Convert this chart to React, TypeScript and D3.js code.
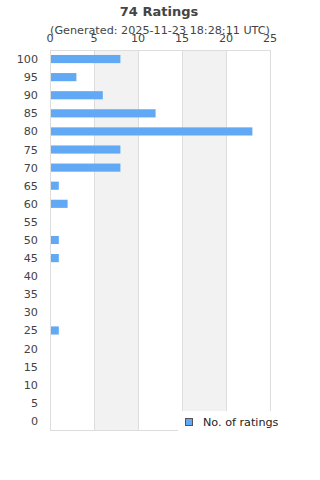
import React from "react";
import * as d3 from "d3";

const categories = ["100","95","90","85","80","75","70","65","60","55","50","45","40","35","30","25","20","15","10","5","0"];
const counts = [8,3,6,12,23,8,8,1,2,0,1,1,0,0,0,1,0,0,0,0,0];
const xTicks = [0,5,10,15,20,25];
const title = "74 Ratings";
const subtitle = "(Generated: 2025-11-23 18:28:11 UTC)";
const seriesName = "No. of ratings";

export default function App() {
  const W = 320, H = 480;
  const left = 50, right = 270, top = 50, bottom = 430;
  const x = d3.scaleLinear().domain([0, 25]).range([left, right]);
  const y = d3.scaleBand<string>().domain(categories).range([top, bottom]).paddingInner(0.55).paddingOuter(0.275);
  const band = d3.scaleBand<string>().domain(categories).range([top, bottom]);
  const font = "'DejaVu Sans', sans-serif";
  const txt = "#444";
  const fs = 11.2;
  return (
    <svg width={W} height={H} style={{ position: "absolute", left: 0, top: 0 }} fontFamily={font}>
      <rect x={0} y={0} width={W} height={H} fill="#fff" />
      {xTicks.slice(0, -1).map((t, i) => i % 2 === 1 ? (
        <rect key={"b" + t} x={x(t)} y={top} width={x(xTicks[i + 1]) - x(t)} height={bottom - top} fill="#f2f2f2" />
      ) : null)}
      {xTicks.map(t => (
        <line key={"g" + t} x1={x(t)} x2={x(t)} y1={top} y2={bottom} stroke="#dddddd" strokeWidth={1} shapeRendering="crispEdges" />
      ))}
      <line x1={left} x2={right} y1={top} y2={top} stroke="#dddddd" shapeRendering="crispEdges" />
      <line x1={left} x2={right} y1={bottom} y2={bottom} stroke="#dddddd" shapeRendering="crispEdges" />
      {categories.map((c, i) => counts[i] > 0 ? (
        <rect key={"r" + c} x={x(0) + 1} y={y(c)} width={x(counts[i]) - x(0) - 1} height={y.bandwidth()} fill="#61a9f4" />
      ) : null)}
      {categories.map(c => (
        <text key={"l" + c} x={38} y={(band(c) as number) + band.bandwidth() / 2 + 4} textAnchor="end" fontSize={fs} fill={txt}>{c}</text>
      ))}
      {xTicks.map(t => (
        <text key={"t" + t} x={x(t)} y={42} textAnchor="middle" fontSize={fs} fill={txt}>{t}</text>
      ))}
      <text x={159} y={16} textAnchor="middle" fontSize={13} fontWeight="bold" fill={txt}>{title}</text>
      <text x={160} y={34} textAnchor="middle" fontSize={fs} fill={txt}>{subtitle}</text>
      <rect x={178} y={411} width={142} height={25} fill="#fff" />
      <rect x={185.5} y={418.5} width={7} height={7} fill="#61a9f4" stroke="#555" strokeWidth={1} />
      <text x={203} y={426} fontSize={fs} fill="#222">{seriesName}</text>
    </svg>
  );
}
